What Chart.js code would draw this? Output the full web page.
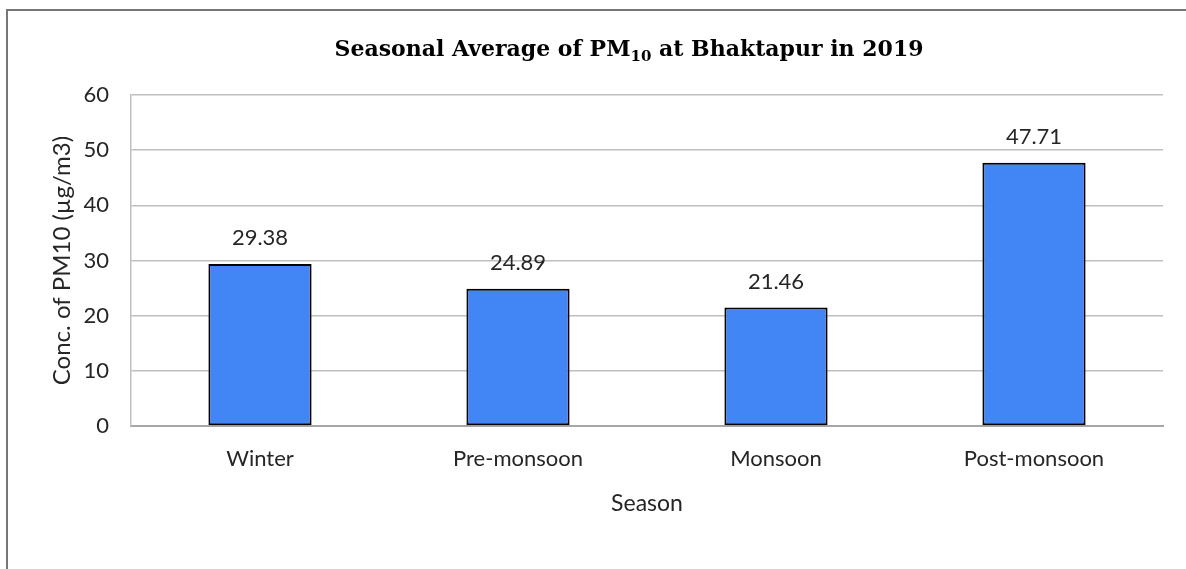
<!DOCTYPE html>
<html>
<head>
<meta charset="utf-8">
<script src="https://cdn.jsdelivr.net/npm/chart.js@4.4.1/dist/chart.umd.min.js"></script>
<style>
  html, body { margin: 0; padding: 0; background: #ffffff; }
  #wrap { position: relative; width: 1186px; height: 569px; }
</style>
</head>
<body>
<div id="wrap"><canvas id="chart" width="1186" height="569"></canvas></div>
<script>
// Seasonal PM10 averages, Bhaktapur, 2019
const seasons = ['Winter', 'Pre-monsoon', 'Monsoon', 'Post-monsoon'];
const pm10Values = [29.38, 24.89, 21.46, 47.71];
const yTicks = [0, 10, 20, 30, 40, 50, 60];

const titleMain = 'Seasonal Average of PM';
const titleSub = '10';
const titleTail = ' at Bhaktapur in 2019';

const BODY_FONT = 'Lato, "Open Sans", sans-serif';
const TEXT_COLOR = '#262626';
const TITLE_CENTER_X = 629;
const TITLE_BASELINE = 56;

// Outer frame (top and left edges) plus the title with a subscripted "10"
const framePlugin = {
  id: 'frame',
  beforeDraw(chart) {
    const ctx = chart.ctx;
    ctx.save();
    ctx.fillStyle = '#ffffff';
    ctx.fillRect(0, 0, chart.width, chart.height);
    ctx.strokeStyle = '#767676';
    ctx.lineWidth = 2;
    ctx.beginPath();
    ctx.moveTo(7, chart.height);
    ctx.lineTo(7, 10);
    ctx.lineTo(chart.width, 10);
    ctx.stroke();
    ctx.restore();
  },
  afterDraw(chart) {
    const ctx = chart.ctx;
    const mainFont = 'bold 22px "DejaVu Serif", "Liberation Serif", serif';
    const subFont = 'bold 15px "DejaVu Serif", "Liberation Serif", serif';
    ctx.save();
    ctx.fillStyle = '#000000';
    ctx.textBaseline = 'alphabetic';
    ctx.font = mainFont;
    const w1 = ctx.measureText(titleMain).width;
    const w3 = ctx.measureText(titleTail).width;
    ctx.font = subFont;
    const w2 = ctx.measureText(titleSub).width;
    const total = w1 + w2 + w3;
    let x = TITLE_CENTER_X - total / 2;
    ctx.textAlign = 'left';
    ctx.font = mainFont;
    ctx.fillText(titleMain, x, TITLE_BASELINE);
    x += w1;
    ctx.font = subFont;
    ctx.fillText(titleSub, x, TITLE_BASELINE + 5);
    x += w2;
    ctx.font = mainFont;
    ctx.fillText(titleTail, x, TITLE_BASELINE);
    ctx.restore();
  }
};

// Value labels above each bar, placed from the bar elements themselves
const valueLabels = {
  id: 'valueLabels',
  afterDatasetsDraw(chart) {
    const ctx = chart.ctx;
    const meta = chart.getDatasetMeta(0);
    ctx.save();
    ctx.font = '22px ' + BODY_FONT;
    ctx.fillStyle = TEXT_COLOR;
    ctx.textAlign = 'center';
    ctx.textBaseline = 'middle';
    meta.data.forEach((bar, i) => {
      ctx.fillText(pm10Values[i].toFixed(2), bar.x, bar.y - 26);
    });
    ctx.restore();
  }
};

new Chart(document.getElementById('chart'), {
  type: 'bar',
  data: {
    labels: seasons,
    datasets: [{
      data: pm10Values,
      backgroundColor: '#4285f4',
      borderColor: '#000000',
      borderWidth: 2,
      borderSkipped: false,
      barPercentage: 0.4,
      categoryPercentage: 1.0
    }]
  },
  options: {
    responsive: false,
    animation: false,
    events: [],
    layout: { padding: { left: 0, top: 95, right: 23, bottom: 0 } },
    plugins: {
      legend: { display: false },
      title: { display: false },
      tooltip: { enabled: false }
    },
    scales: {
      x: {
        afterFit(scale) { scale.height = 143; },
        grid: { display: false, drawTicks: false },
        border: { display: true, color: '#a6a6a6', width: 2 },
        ticks: {
          padding: 20,
          color: TEXT_COLOR,
          font: { family: BODY_FONT, size: 22 }
        },
        title: {
          display: true,
          text: 'Season',
          color: TEXT_COLOR,
          font: { family: BODY_FONT, size: 23 },
          padding: { top: 0, bottom: 52 }
        }
      },
      y: {
        min: 0,
        max: 60,
        afterFit(scale) { scale.width = 131; },
        afterBuildTicks(scale) { scale.ticks = yTicks.map(v => ({ value: v })); },
        grid: { color: '#bfbfbf', lineWidth: 1.5, drawTicks: false },
        border: { display: true, color: '#bfbfbf', width: 1.5 },
        ticks: {
          padding: 22,
          color: TEXT_COLOR,
          font: { family: BODY_FONT, size: 22 }
        },
        title: {
          display: true,
          text: 'Conc. of PM10 (µg/m3)',
          color: TEXT_COLOR,
          font: { family: BODY_FONT, size: 24 },
          padding: { top: 48, bottom: 0 }
        }
      }
    }
  },
  plugins: [framePlugin, valueLabels]
});
</script>
</body>
</html>
